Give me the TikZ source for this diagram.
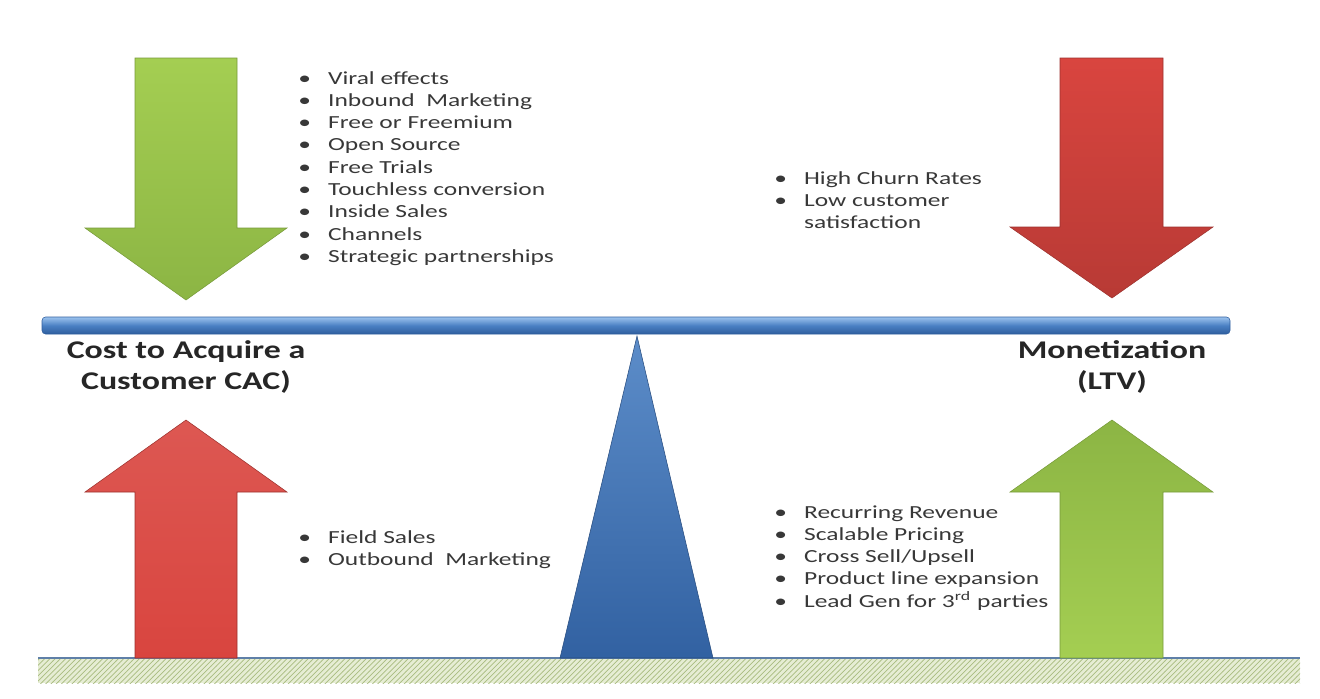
\documentclass[tikz,border=0pt]{standalone}
\usepackage{fontspec}
\setmainfont{Carlito}
\usetikzlibrary{patterns}

\definecolor{leafgreen}{HTML}{A4CE52}
\definecolor{leafdark}{HTML}{8CB544}
\definecolor{brickred}{HTML}{D9453F}
\definecolor{brickdark}{HTML}{B83A35}
\definecolor{beamblue}{HTML}{4A80C3}
\definecolor{beamdark}{HTML}{2F5E9E}
\definecolor{beamlight}{HTML}{9CC3EE}
\definecolor{groundfill}{HTML}{E6EDD4}
\definecolor{groundline}{HTML}{A9BC80}
\definecolor{listgray}{HTML}{383838}

\begin{document}
\begin{tikzpicture}[x=0.02cm, y=-0.02cm,
  listtext/.style={anchor=base west, inner sep=0pt, xscale=1.38, text=listgray,
    font=\fontsize{10.5}{12.7}\selectfont},
  sidelabel/.style={align=center, inner sep=0pt, xscale=1.33, text=black!85,
    font=\fontsize{14.5}{17.6}\selectfont\bfseries}]
  \useasboundingbox (0,0) rectangle (1320,698);

  % Coordinates
  \coordinate (A) at (298, 84);
  \coordinate (B) at (774, 184);
  \coordinate (C) at (298, 543);
  \coordinate (D) at (774, 518);
  \coordinate (E) at (186, 367);
  \coordinate (F) at (1112, 367);
  \coordinate (G) at (637, 336);
  \coordinate (H) at (560, 658);
  \coordinate (I) at (713, 658);
  \coordinate (J) at (38, 658);
  \coordinate (K) at (1300, 683);

  % Drawing
  \fill[groundfill] (J) rectangle (K);
  \fill[pattern=north east lines, pattern color=groundline] (J) rectangle (K);
  \draw[beamblue!60!gray, line width=0.6pt] (J) -- (1300,658);

  \shade[top color=beamblue!90!white, bottom color=beamdark!90!beamblue, draw=beamdark!80!black, line width=0.3pt]
    (G) -- (I) -- (H) -- cycle;
  \shade[top color=beamlight, bottom color=beamdark, middle color=beamblue, rounded corners=2pt,
    draw=beamdark, line width=0.3pt] (42,317) rectangle (1230,334);

  % down arrows
  \shade[top color=leafgreen, bottom color=leafdark, draw=leafdark!85!black, line width=0.3pt]
    (135,58) -- (237,58) -- (237,228) -- (287,228) -- (186,300) -- (85,228) -- (135,228) -- cycle;
  \shade[top color=brickred, bottom color=brickdark, draw=brickdark!85!black, line width=0.3pt]
    (1060,58) -- (1163,58) -- (1163,227) -- (1213,227) -- (1112,298) -- (1010,227) -- (1060,227) -- cycle;
  % up arrows
  \shade[top color=brickred!90!white, bottom color=brickred, draw=brickdark!85!black, line width=0.3pt]
    (135,658) -- (237,658) -- (237,492) -- (287,492) -- (186,420) -- (85,492) -- (135,492) -- cycle;
  \shade[top color=leafdark, bottom color=leafgreen, draw=leafdark!85!black, line width=0.3pt]
    (1060,658) -- (1163,658) -- (1163,492) -- (1213,492) -- (1112,420) -- (1010,492) -- (1060,492) -- cycle;

  \node[sidelabel] at (E) {Cost to Acquire a\\Customer CAC)};
  \node[sidelabel] at (F) {Monetization\\(LTV)};

  \node[listtext] at (A) {\begin{tabular}[t]{@{}l@{\hspace{7pt}}l@{}}
    \textbullet & Viral effects\\
    \textbullet & Inbound\ \ Marketing\\
    \textbullet & Free or\ Freemium\\
    \textbullet & Open Source\\
    \textbullet & Free Trials\\
    \textbullet & Touchless conversion\\
    \textbullet & Inside Sales\\
    \textbullet & Channels\\
    \textbullet & Strategic partnerships
  \end{tabular}};
  \node[listtext] at (B) {\begin{tabular}[t]{@{}l@{\hspace{7pt}}l@{}}
    \textbullet & High Churn Rates\\
    \textbullet & Low customer\\
                & satisfaction
  \end{tabular}};
  \node[listtext] at (C) {\begin{tabular}[t]{@{}l@{\hspace{7pt}}l@{}}
    \textbullet & Field Sales\\
    \textbullet & Outbound\ \ Marketing
  \end{tabular}};
  \node[listtext] at (D) {\begin{tabular}[t]{@{}l@{\hspace{7pt}}l@{}}
    \textbullet & Recurring Revenue\\
    \textbullet & Scalable Pricing\\
    \textbullet & Cross Sell/Upsell\\
    \textbullet & Product line expansion\\
    \textbullet & Lead Gen for 3\textsuperscript{rd} parties
  \end{tabular}};
\end{tikzpicture}
\end{document}
